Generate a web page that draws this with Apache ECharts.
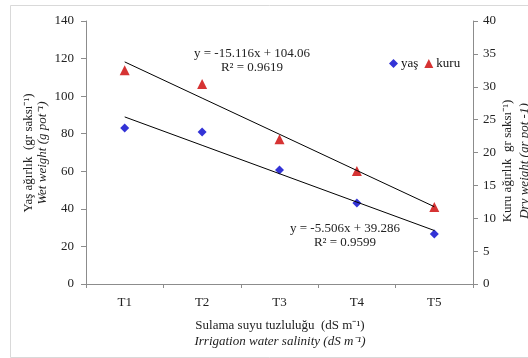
<!DOCTYPE html>
<html>
<head>
<meta charset="utf-8">
<script src="https://cdn.jsdelivr.net/npm/echarts@6/dist/echarts.min.js"></script>
<style>
  html, body { margin: 0; padding: 0; background: #fff; }
  #chart { width: 528px; height: 358px; }
</style>
</head>
<body>
<div id="chart"></div>
<script>
// kategoriler
var categories = ["T1", "T2", "T3", "T4", "T5"];
// yaş ağırlık (sol eksen)
var yasValues = [83.0, 80.9, 60.7, 43.1, 26.6];
// kuru ağırlık (sağ eksen)
var kuruValues = [32.5, 30.4, 22.0, 17.2, 11.7];
// trend çizgileri (denklemlerden okunan değerler)
var yasTrend = [88.94, 73.83, 58.71, 43.60, 28.48];
var kuruTrend = [33.78, 28.27, 22.77, 17.26, 11.76];
var leftTicks = [0, 140, 20];
var rightTicks = [0, 40, 5];

var chart = echarts.init(document.getElementById("chart"));
var serif = "Liberation Serif";
var axisGray = "#8c8c8c";

var option = {
  animation: false,
  textStyle: { fontFamily: serif },
  grid: { left: 86, right: 55, top: 21, bottom: 74 },
  legend: {
    data: [
      { name: "yaş", icon: "diamond" },
      { name: "kuru", icon: "triangle" }
    ],
    left: 384,
    top: 52,
    itemWidth: 9,
    itemHeight: 9,
    itemGap: 6,
    textStyle: { fontFamily: serif, fontSize: 13, color: "#111", padding: [0, 0, 0, -2] }
  },
  xAxis: {
    type: "category",
    data: categories,
    boundaryGap: true,
    axisLine: { lineStyle: { color: axisGray } },
    axisTick: { show: true, length: 4, lineStyle: { color: axisGray } },
    axisLabel: { fontFamily: serif, fontSize: 13, color: "#222", margin: 12 }
  },
  yAxis: [
    {
      type: "value",
      min: leftTicks[0], max: leftTicks[1], interval: leftTicks[2],
      splitLine: { show: false },
      axisLine: { show: true, lineStyle: { color: axisGray } },
      axisTick: { show: true, length: 5, lineStyle: { color: axisGray } },
      axisLabel: { fontFamily: serif, fontSize: 13, color: "#222", margin: 12 }
    },
    {
      type: "value",
      position: "right",
      min: rightTicks[0], max: rightTicks[1], interval: rightTicks[2],
      splitLine: { show: false },
      axisLine: { show: true, lineStyle: { color: axisGray } },
      axisTick: { show: true, length: 5, lineStyle: { color: axisGray } },
      axisLabel: { fontFamily: serif, fontSize: 13, color: "#222", margin: 10 }
    }
  ],
  series: [
    {
      name: "yaş trend", type: "line", yAxisIndex: 0, data: yasTrend,
      symbol: "none", silent: true,
      lineStyle: { color: "#000", width: 1 }
    },
    {
      name: "kuru trend", type: "line", yAxisIndex: 1, data: kuruTrend,
      symbol: "none", silent: true,
      lineStyle: { color: "#000", width: 1 }
    },
    {
      name: "yaş", type: "scatter", yAxisIndex: 0, data: yasValues,
      symbol: "diamond", symbolSize: 9,
      itemStyle: { color: "#0000cc" }
    },
    {
      name: "kuru", type: "scatter", yAxisIndex: 1, data: kuruValues,
      symbol: "triangle", symbolSize: 10,
      itemStyle: { color: "#cc0000" }
    }
  ],
  graphic: [
    // dış çerçeve
    {
      type: "rect", left: 8, top: 3, silent: true,
      shape: { width: 530, height: 352 },
      style: { fill: "none", stroke: "#d9d9d9", lineWidth: 1 }
    },
    // denklemler
    { type: "text", x: 252, y: 54, style: { text: "y = -15.116x + 104.06", font: "13px " + serif, fill: "#222", align: "center", verticalAlign: "middle" } },
    { type: "text", x: 252, y: 68, style: { text: "R² = 0.9619", font: "13px " + serif, fill: "#222", align: "center", verticalAlign: "middle" } },
    { type: "text", x: 345, y: 229, style: { text: "y = -5.506x + 39.286", font: "13px " + serif, fill: "#222", align: "center", verticalAlign: "middle" } },
    { type: "text", x: 345, y: 243, style: { text: "R² = 0.9599", font: "13px " + serif, fill: "#222", align: "center", verticalAlign: "middle" } },
    // eksen adları
    { type: "text", x: 29, y: 153, rotation: Math.PI / 2, style: { text: "Yaş ağırlık  (gr saksı⁻¹)", font: "13px " + serif, fill: "#222", align: "center", verticalAlign: "middle" } },
    { type: "text", x: 43, y: 153, rotation: Math.PI / 2, style: { text: "Wet weight (g pot⁻¹)", font: "italic 13px " + serif, fill: "#222", align: "center", verticalAlign: "middle" } },
    { type: "text", x: 508, y: 161, rotation: Math.PI / 2, style: { text: "Kuru ağırlık  gr saksı⁻¹)", font: "13px " + serif, fill: "#222", align: "center", verticalAlign: "middle" } },
    { type: "text", x: 525, y: 161, rotation: Math.PI / 2, style: { text: "Dry weight (gr pot -1)", font: "italic 13px " + serif, fill: "#222", align: "center", verticalAlign: "middle" } },
    { type: "text", x: 280, y: 326, style: { text: "Sulama suyu tuzluluğu  (dS m⁻¹)", font: "13px " + serif, fill: "#222", align: "center", verticalAlign: "middle" } },
    { type: "text", x: 280, y: 342, style: { text: "Irrigation water salinity (dS m⁻¹)", font: "italic 13px " + serif, fill: "#222", align: "center", verticalAlign: "middle" } }
  ]
};

chart.setOption(option);
window.addEventListener("resize", function () {
  chart.resize();
});
</script>
</body>
</html>
